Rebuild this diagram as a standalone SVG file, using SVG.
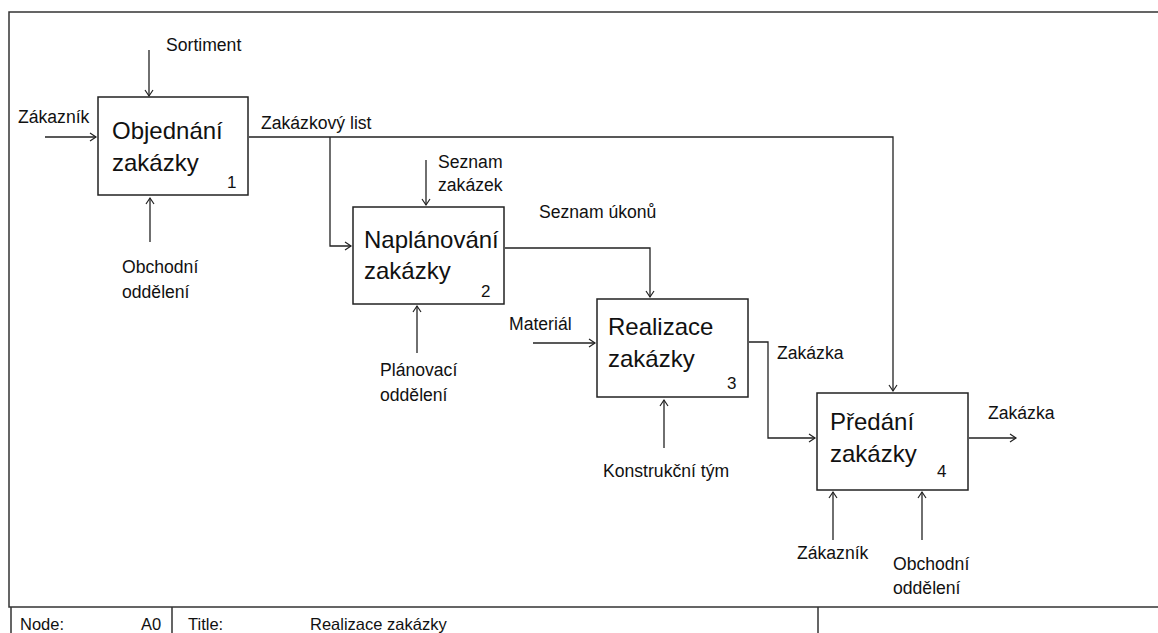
<svg xmlns="http://www.w3.org/2000/svg" width="1158" height="633" viewBox="0 0 1158 633">
  <style>
    .frame { fill: none; stroke: #333; stroke-width: 1.5; }
    .box { fill: #fff; stroke: #222; stroke-width: 1.5; }
    .wire { fill: none; stroke: #222; stroke-width: 1.3; }
    .title { font-family: "Liberation Sans", Arial, sans-serif; font-size: 24px; fill: #111; }
    .num { font-family: "Liberation Sans", Arial, sans-serif; font-size: 17px; fill: #111; }
    .lbl { font-family: "Liberation Sans", Arial, sans-serif; font-size: 17.6px; fill: #111; }
    .foot { font-family: "Liberation Sans", Arial, sans-serif; font-size: 16.5px; fill: #111; }
  </style>
  <defs>
    <marker id="arrow" markerUnits="userSpaceOnUse" markerWidth="10" markerHeight="10" refX="7" refY="5" orient="auto">
      <path d="M1,1 L7,5 L1,9" fill="none" stroke="#222" stroke-width="1.2"/>
    </marker>
  </defs>

  <rect width="1158" height="633" fill="#fff"/>

  <!-- drawing frame and title block -->
  <g id="frame">
    <path class="frame" d="M1160,12 H9 V607 H1160"/>
    <path class="frame" d="M11,607 V633 M172,607 V633 M818,607 V633"/>
    <text class="foot" x="20" y="630">Node:</text>
    <text class="foot" x="141" y="630">A0</text>
    <text class="foot" x="188" y="630">Title:</text>
    <text class="foot" x="310" y="630">Realizace zakázky</text>
  </g>

  <!-- connectors -->
  <g id="connectors">
    <!-- activity 1 -->
    <path class="wire" d="M149,50 V96" marker-end="url(#arrow)"/>
    <path class="wire" d="M45,137 H96" marker-end="url(#arrow)"/>
    <path class="wire" d="M150,242 V198" marker-end="url(#arrow)"/>
    <!-- Zakázkový list -->
    <path class="wire" d="M249,137 H893 V391" marker-end="url(#arrow)"/>
    <path class="wire" d="M330,137 V246 H351" marker-end="url(#arrow)"/>
    <!-- activity 2 -->
    <path class="wire" d="M426,160 V205" marker-end="url(#arrow)"/>
    <path class="wire" d="M417,353 V306" marker-end="url(#arrow)"/>
    <path class="wire" d="M505,248 H650 V297" marker-end="url(#arrow)"/>
    <!-- activity 3 -->
    <path class="wire" d="M533,343 H595" marker-end="url(#arrow)"/>
    <path class="wire" d="M664,448 V400" marker-end="url(#arrow)"/>
    <path class="wire" d="M749,342 H768 V438 H815" marker-end="url(#arrow)"/>
    <!-- activity 4 -->
    <path class="wire" d="M969,438 H1016" marker-end="url(#arrow)"/>
    <path class="wire" d="M833,540 V492" marker-end="url(#arrow)"/>
    <path class="wire" d="M922,540 V492" marker-end="url(#arrow)"/>
  </g>

  <!-- connector labels -->
  <g id="labels">
    <text class="lbl" x="166" y="51">Sortiment</text>
    <text class="lbl" x="18" y="123">Zákazník</text>
    <text class="lbl" x="122" y="273">Obchodní</text>
    <text class="lbl" x="122" y="298">oddělení</text>
    <text class="lbl" x="261" y="129">Zakázkový list</text>
    <text class="lbl" x="438" y="168">Seznam</text>
    <text class="lbl" x="438" y="191">zakázek</text>
    <text class="lbl" x="539" y="218">Seznam úkonů</text>
    <text class="lbl" x="380" y="376">Plánovací</text>
    <text class="lbl" x="380" y="401">oddělení</text>
    <text class="lbl" x="509" y="330">Materiál</text>
    <text class="lbl" x="777" y="359">Zakázka</text>
    <text class="lbl" x="603" y="477">Konstrukční tým</text>
    <text class="lbl" x="988" y="419">Zakázka</text>
    <text class="lbl" x="797" y="559">Zákazník</text>
    <text class="lbl" x="893" y="570">Obchodní</text>
    <text class="lbl" x="893" y="594">oddělení</text>
  </g>

  <g id="node1">
    <rect class="box" x="98" y="97" width="150" height="98"/>
    <text class="title" x="112" y="139">Objednání</text>
    <text class="title" x="112" y="171">zakázky</text>
    <text class="num" x="227" y="188">1</text>
  </g>

  <g id="node2">
    <rect class="box" x="353" y="207" width="151" height="97"/>
    <text class="title" x="364" y="248">Naplánování</text>
    <text class="title" x="364" y="279">zakázky</text>
    <text class="num" x="481" y="297">2</text>
  </g>

  <g id="node3">
    <rect class="box" x="597" y="299" width="151" height="98"/>
    <text class="title" x="608" y="335">Realizace</text>
    <text class="title" x="608" y="367">zakázky</text>
    <text class="num" x="727" y="389">3</text>
  </g>

  <g id="node4">
    <rect class="box" x="817" y="393" width="151" height="97"/>
    <text class="title" x="830" y="430">Předání</text>
    <text class="title" x="830" y="462">zakázky</text>
    <text class="num" x="937" y="477">4</text>
  </g>
</svg>
